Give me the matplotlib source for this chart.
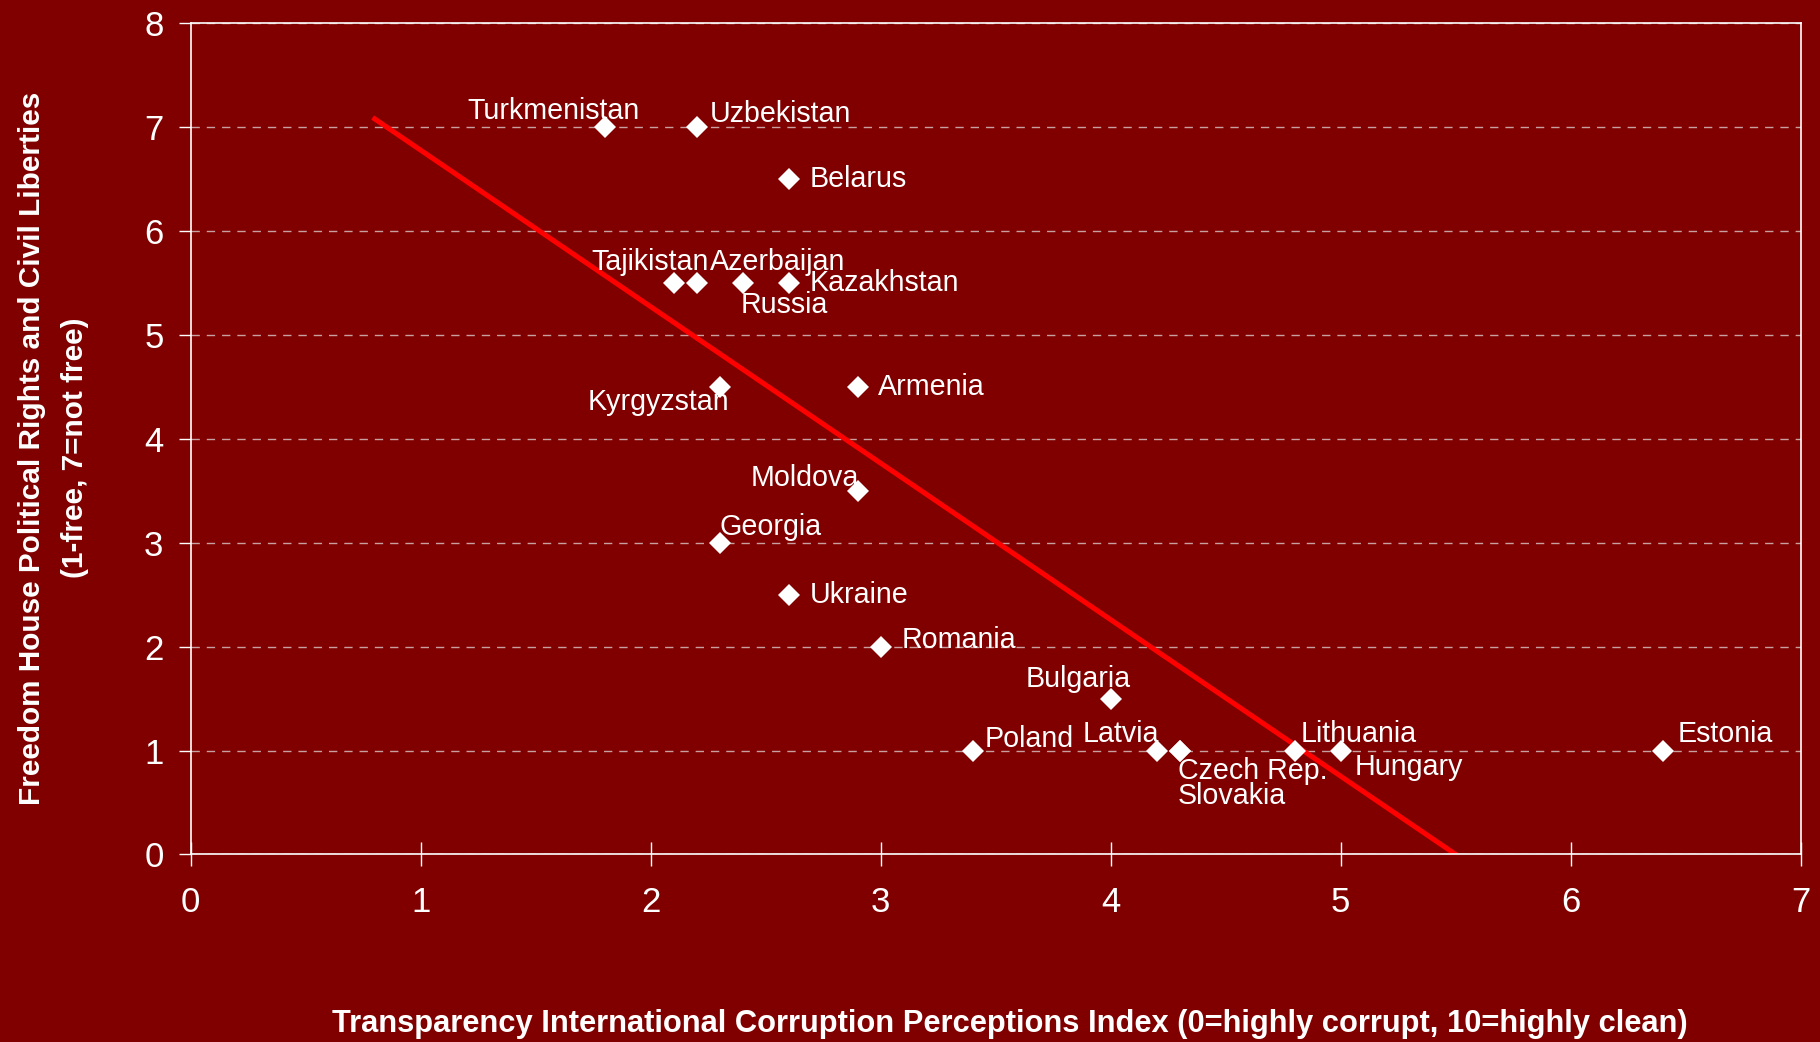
import matplotlib
matplotlib.use("Agg")
import matplotlib.pyplot as plt

plt.rcParams['font.family'] = ['Liberation Sans', 'DejaVu Sans']

# data: CPI score (x) vs Freedom House rating (y)
countries = ["Turkmenistan", "Uzbekistan", "Belarus", "Tajikistan", "Azerbaijan",
             "Russia", "Kazakhstan", "Kyrgyzstan", "Armenia", "Moldova", "Georgia",
             "Ukraine", "Romania", "Bulgaria", "Poland", "Latvia", "Czech Rep.",
             "Slovakia", "Lithuania", "Hungary", "Estonia"]
cpi = [1.8, 2.2, 2.6, 2.1, 2.2, 2.4, 2.6, 2.3, 2.9, 2.9, 2.3,
       2.6, 3.0, 4.0, 3.4, 4.2, 4.3, 4.3, 4.8, 5.0, 6.4]
freedom = [7.0, 7.0, 6.5, 5.5, 5.5, 5.5, 5.5, 4.5, 4.5, 3.5, 3.0,
           2.5, 2.0, 1.5, 1.0, 1.0, 1.0, 1.0, 1.0, 1.0, 1.0]
trend_x = [0.8, 5.5]
trend_y = [7.08, 0.0]

# label placement (offset in pixels, horizontal alignment)
label_pos = {
    "Turkmenistan": (-51, 16, "center"),
    "Uzbekistan": (13, 13, "left"),
    "Belarus": (21, 0, "left"),
    "Tajikistan": (-24, 21, "center"),
    "Azerbaijan": (13, 21, "left"),
    "Russia": (-2, -22, "left"),
    "Kazakhstan": (21, 0, "left"),
    "Kyrgyzstan": (10, -15, "right"),
    "Armenia": (20, 0, "left"),
    "Moldova": (1, 13, "right"),
    "Georgia": (0, 16, "left"),
    "Ukraine": (21, 0, "left"),
    "Romania": (21, 7, "left"),
    "Bulgaria": (20, 20, "right"),
    "Poland": (12, 12, "left"),
    "Latvia": (2, 17, "right"),
    "Czech Rep.": (-2, -20, "left"),
    "Slovakia": (-2, -45, "left"),
    "Lithuania": (6, 17, "left"),
    "Hungary": (14, -16, "left"),
    "Estonia": (15, 17, "left"),
}

bg = "#800000"
fig = plt.figure(figsize=(18.2, 10.42), dpi=100, facecolor=bg)
ax = fig.add_axes([0.1048, 0.18, 0.8846, 0.7976])
ax.set_facecolor(bg)

ax.plot(trend_x, trend_y, color="#ff0000", linewidth=3.6, zorder=2)
ax.plot(cpi, freedom, linestyle="none", marker="D", markersize=11,
        color="white", markeredgewidth=0, zorder=3)

for name, x, y in zip(countries, cpi, freedom):
    dx, dy, ha = label_pos[name]
    ax.annotate(name, (x, y), xytext=(dx, dy), textcoords="offset pixels",
                ha=ha, va="center", color="white", fontsize=20.6, zorder=4)

ax.set_xlim(0, 7)
ax.set_ylim(0, 8)
ax.set_xticks(range(0, 8))
ax.set_yticks(range(0, 9))
ax.yaxis.grid(True, color="#c8a0a0", linestyle=(0, (6, 5)), linewidth=1.0)
ax.set_axisbelow(True)

for s in ax.spines.values():
    s.set_color("white")
    s.set_linewidth(1.2)

ax.tick_params(axis="y", direction="out", length=8.6, width=1, color="white",
               labelcolor="white", labelsize=25, pad=11)
ax.tick_params(axis="x", direction="inout", length=17, width=1, color="white",
               labelcolor="white", labelsize=25, pad=14)

fig.text(0.555, 0.0175, "Transparency International Corruption Perceptions Index (0=highly corrupt, 10=highly clean)",
         ha="center", va="center", color="white", fontsize=22.2, fontweight="bold")
fig.text(0.0175, 0.57, "Freedom House Political Rights and Civil Liberties",
         ha="center", va="center", rotation=90, color="white", fontsize=21.4, fontweight="bold")
fig.text(0.041, 0.57, "(1-free, 7=not free)",
         ha="center", va="center", rotation=90, color="white", fontsize=21.4, fontweight="bold")

fig.savefig("out.png", dpi=100, facecolor=bg)
